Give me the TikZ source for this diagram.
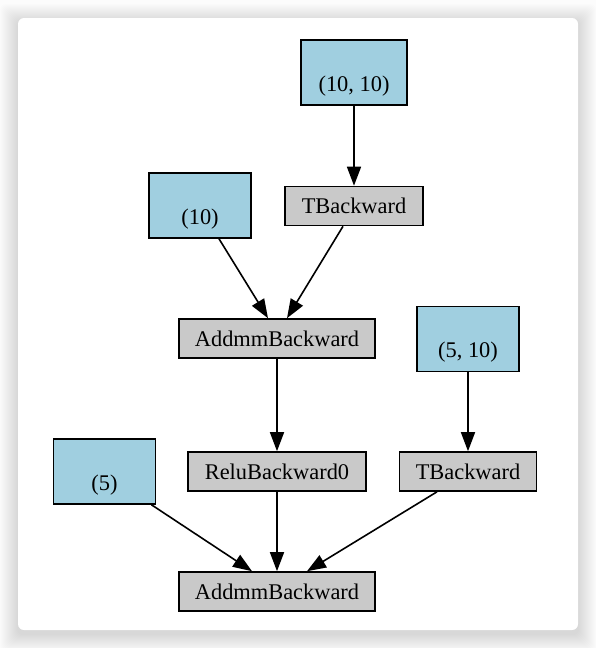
\documentclass[tikz,border=0pt]{standalone}
\usepackage{fontspec}
\setmainfont{Liberation Serif}
\usetikzlibrary{arrows.meta}
\definecolor{lblue}{RGB}{160,207,224}
\definecolor{lgray}{RGB}{201,201,201}
\definecolor{pagebg}{RGB}{252,252,252}
\begin{document}
\begin{tikzpicture}[x=1pt,y=-1pt,
  font=\fontsize{22.4}{27}\selectfont,
  leaf/.style={draw=black,fill=lblue,line width=1.6pt,rectangle,inner sep=0pt,align=center,minimum height=65pt},
  op/.style={draw=black,fill=lgray,line width=1.6pt,rectangle,inner sep=0pt,minimum height=39pt,text height=17pt,text depth=2pt},
  edge/.style={line width=1.6pt,-{Triangle[length=19pt,width=14pt]}}]
\useasboundingbox (0,0) rectangle (596,648);
\fill[pagebg] (0,0) rectangle (596,648);
\foreach \i in {1,...,18}{
  \fill[black,opacity=0.009,rounded corners=6pt] (18-\i,18-\i+4) rectangle (578+\i,630+\i+4);
}
\fill[white,rounded corners=6pt] (18,18) rectangle (578,630);

\node[leaf,minimum width=106pt] (w1) at (354,72.5) {\strut\\\strut(10, 10)};
\node[op,minimum width=138pt] (tb1) at (354,206) {TBackward};
\node[leaf,minimum width=102pt] (b1) at (200,205.5) {\strut\\\strut(10)};
\node[op,minimum width=196pt] (am1) at (277,338.5) {AddmmBackward};
\node[leaf,minimum width=102pt] (w2) at (468,339) {\strut\\\strut(5, 10)};
\node[op,minimum width=178pt] (relu) at (277,471.5) {ReluBackward0};
\node[op,minimum width=137pt] (tb2) at (468,471.5) {TBackward};
\node[leaf,minimum width=102pt] (b2) at (104.5,471.5) {\strut\\\strut(5)};
\node[op,minimum width=196pt] (am2) at (277,591.5) {AddmmBackward};

\draw[edge] (w1.south) -- (tb1.north);
\draw[edge] ([xshift=19pt]b1.south) -- ([xshift=-9pt]am1.north);
\draw[edge] ([xshift=-11pt]tb1.south) -- ([xshift=10pt]am1.north);
\draw[edge] (am1.south) -- (relu.north);
\draw[edge] (w2.south) -- (tb2.north);
\draw[edge] ([xshift=47pt]b2.south) -- ([xshift=-25pt]am2.north);
\draw[edge] (relu.south) -- (am2.north);
\draw[edge] ([xshift=-31pt]tb2.south) -- ([xshift=30pt]am2.north);
\end{tikzpicture}
\end{document}
